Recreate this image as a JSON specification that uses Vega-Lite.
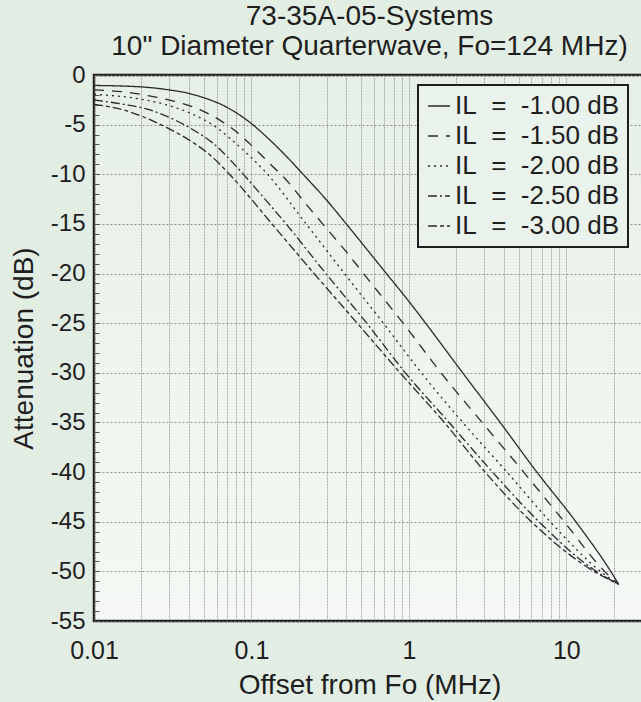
{
  "$schema": "https://vega.github.io/schema/vega-lite/v6.json",
  "autosize": "none",
  "padding": {"left": 94, "top": 75, "right": 0, "bottom": 81},
  "width": 551,
  "height": 546,
  "background": "#e2ede4",
  "view": {
    "fill": {"gradient": "linear", "x1": 0, "y1": 0, "x2": 0, "y2": 1, "stops": [{"offset": 0, "color": "#e6f0e8"}, {"offset": 1, "color": "#f5f8f4"}]},
    "stroke": "#1e1e1e",
    "strokeWidth": 2.5
  },
  "title": {
    "text": ["73-35A-05-Systems", "10\" Diameter Quarterwave, Fo=124 MHz)"],
    "font": "Liberation Sans",
    "fontSize": 28,
    "fontWeight": "normal",
    "color": "#1e1e1e",
    "lineHeight": 30,
    "offset": 2,
    "anchor": "middle"
  },
  "data": {
    "values": [
      {"f": 0.01, "a": -1.05, "s": "IL = -1.00 dB"},
      {"f": 0.02, "a": -1.2, "s": "IL = -1.00 dB"},
      {"f": 0.03, "a": -1.5, "s": "IL = -1.00 dB"},
      {"f": 0.04, "a": -1.85, "s": "IL = -1.00 dB"},
      {"f": 0.05, "a": -2.3, "s": "IL = -1.00 dB"},
      {"f": 0.065, "a": -3.0, "s": "IL = -1.00 dB"},
      {"f": 0.08, "a": -3.8, "s": "IL = -1.00 dB"},
      {"f": 0.1, "a": -4.9, "s": "IL = -1.00 dB"},
      {"f": 0.13, "a": -6.5, "s": "IL = -1.00 dB"},
      {"f": 0.16, "a": -7.9, "s": "IL = -1.00 dB"},
      {"f": 0.21, "a": -9.9, "s": "IL = -1.00 dB"},
      {"f": 0.3, "a": -12.6, "s": "IL = -1.00 dB"},
      {"f": 0.41, "a": -15.2, "s": "IL = -1.00 dB"},
      {"f": 0.55, "a": -17.7, "s": "IL = -1.00 dB"},
      {"f": 0.72, "a": -20, "s": "IL = -1.00 dB"},
      {"f": 1.0, "a": -22.8, "s": "IL = -1.00 dB"},
      {"f": 1.25, "a": -24.8, "s": "IL = -1.00 dB"},
      {"f": 2.15, "a": -29.8, "s": "IL = -1.00 dB"},
      {"f": 3.8, "a": -35, "s": "IL = -1.00 dB"},
      {"f": 6.5, "a": -40, "s": "IL = -1.00 dB"},
      {"f": 11.5, "a": -45, "s": "IL = -1.00 dB"},
      {"f": 19.5, "a": -50.2, "s": "IL = -1.00 dB"},
      {"f": 21.5, "a": -51.3, "s": "IL = -1.00 dB"},

      {"f": 0.01, "a": -1.5, "s": "IL = -1.50 dB"},
      {"f": 0.015, "a": -1.68, "s": "IL = -1.50 dB"},
      {"f": 0.022, "a": -2.08, "s": "IL = -1.50 dB"},
      {"f": 0.032, "a": -2.62, "s": "IL = -1.50 dB"},
      {"f": 0.045, "a": -3.36, "s": "IL = -1.50 dB"},
      {"f": 0.063, "a": -4.55, "s": "IL = -1.50 dB"},
      {"f": 0.08, "a": -5.7, "s": "IL = -1.50 dB"},
      {"f": 0.108, "a": -7.6, "s": "IL = -1.50 dB"},
      {"f": 0.138, "a": -9.3, "s": "IL = -1.50 dB"},
      {"f": 0.156, "a": -10.1, "s": "IL = -1.50 dB"},
      {"f": 0.225, "a": -13.1, "s": "IL = -1.50 dB"},
      {"f": 0.287, "a": -15.1, "s": "IL = -1.50 dB"},
      {"f": 0.4, "a": -17.8, "s": "IL = -1.50 dB"},
      {"f": 0.515, "a": -20, "s": "IL = -1.50 dB"},
      {"f": 0.92, "a": -25, "s": "IL = -1.50 dB"},
      {"f": 1.6, "a": -30, "s": "IL = -1.50 dB"},
      {"f": 2.92, "a": -35, "s": "IL = -1.50 dB"},
      {"f": 5.36, "a": -40, "s": "IL = -1.50 dB"},
      {"f": 9.7, "a": -45, "s": "IL = -1.50 dB"},
      {"f": 17.5, "a": -50, "s": "IL = -1.50 dB"},
      {"f": 21.5, "a": -51.3, "s": "IL = -1.50 dB"},

      {"f": 0.01, "a": -1.95, "s": "IL = -2.00 dB"},
      {"f": 0.0196, "a": -2.42, "s": "IL = -2.00 dB"},
      {"f": 0.029, "a": -3.02, "s": "IL = -2.00 dB"},
      {"f": 0.041, "a": -3.86, "s": "IL = -2.00 dB"},
      {"f": 0.057, "a": -5.04, "s": "IL = -2.00 dB"},
      {"f": 0.073, "a": -6.38, "s": "IL = -2.00 dB"},
      {"f": 0.098, "a": -8.2, "s": "IL = -2.00 dB"},
      {"f": 0.125, "a": -9.9, "s": "IL = -2.00 dB"},
      {"f": 0.22, "a": -14.9, "s": "IL = -2.00 dB"},
      {"f": 0.39, "a": -20, "s": "IL = -2.00 dB"},
      {"f": 0.72, "a": -25.4, "s": "IL = -2.00 dB"},
      {"f": 1.2, "a": -30, "s": "IL = -2.00 dB"},
      {"f": 2.2, "a": -35, "s": "IL = -2.00 dB"},
      {"f": 4.2, "a": -40, "s": "IL = -2.00 dB"},
      {"f": 7.9, "a": -45, "s": "IL = -2.00 dB"},
      {"f": 16.5, "a": -50, "s": "IL = -2.00 dB"},
      {"f": 21.5, "a": -51.3, "s": "IL = -2.00 dB"},

      {"f": 0.01, "a": -2.52, "s": "IL = -2.50 dB"},
      {"f": 0.0154, "a": -2.95, "s": "IL = -2.50 dB"},
      {"f": 0.0227, "a": -3.52, "s": "IL = -2.50 dB"},
      {"f": 0.0304, "a": -4.3, "s": "IL = -2.50 dB"},
      {"f": 0.0428, "a": -5.54, "s": "IL = -2.50 dB"},
      {"f": 0.0573, "a": -6.9, "s": "IL = -2.50 dB"},
      {"f": 0.0769, "a": -8.9, "s": "IL = -2.50 dB"},
      {"f": 0.0935, "a": -10.4, "s": "IL = -2.50 dB"},
      {"f": 0.125, "a": -12.7, "s": "IL = -2.50 dB"},
      {"f": 0.17, "a": -15.2, "s": "IL = -2.50 dB"},
      {"f": 0.29, "a": -19.8, "s": "IL = -2.50 dB"},
      {"f": 0.54, "a": -25, "s": "IL = -2.50 dB"},
      {"f": 0.95, "a": -30, "s": "IL = -2.50 dB"},
      {"f": 1.8, "a": -35, "s": "IL = -2.50 dB"},
      {"f": 3.4, "a": -40, "s": "IL = -2.50 dB"},
      {"f": 6.7, "a": -45, "s": "IL = -2.50 dB"},
      {"f": 15.5, "a": -50, "s": "IL = -2.50 dB"},
      {"f": 21.5, "a": -51.3, "s": "IL = -2.50 dB"},

      {"f": 0.01, "a": -2.95, "s": "IL = -3.00 dB"},
      {"f": 0.0154, "a": -3.52, "s": "IL = -3.00 dB"},
      {"f": 0.0216, "a": -4.36, "s": "IL = -3.00 dB"},
      {"f": 0.029, "a": -5.3, "s": "IL = -3.00 dB"},
      {"f": 0.0407, "a": -6.6, "s": "IL = -3.00 dB"},
      {"f": 0.0546, "a": -8.06, "s": "IL = -3.00 dB"},
      {"f": 0.0732, "a": -10.07, "s": "IL = -3.00 dB"},
      {"f": 0.135, "a": -15, "s": "IL = -3.00 dB"},
      {"f": 0.25, "a": -20, "s": "IL = -3.00 dB"},
      {"f": 0.47, "a": -25, "s": "IL = -3.00 dB"},
      {"f": 0.88, "a": -30, "s": "IL = -3.00 dB"},
      {"f": 1.68, "a": -35, "s": "IL = -3.00 dB"},
      {"f": 3.05, "a": -40, "s": "IL = -3.00 dB"},
      {"f": 6.0, "a": -45, "s": "IL = -3.00 dB"},
      {"f": 15.0, "a": -50, "s": "IL = -3.00 dB"},
      {"f": 21.5, "a": -51.3, "s": "IL = -3.00 dB"}
    ]
  },
  "mark": {"type": "line", "interpolate": "monotone", "color": "#2a2a2a", "strokeWidth": 1.3, "clip": true},
  "encoding": {
    "x": {
      "field": "f",
      "type": "quantitative",
      "scale": {"type": "log", "domain": [0.01, 31.62], "nice": false},
      "axis": {
        "title": "Offset from Fo (MHz)",
        "titleFont": "Liberation Sans",
        "titleFontSize": 28,
        "titleFontWeight": "normal",
        "titleColor": "#1e1e1e",
        "titlePadding": 8,
        "values": [0.01,0.02,0.03,0.04,0.05,0.06,0.07,0.08,0.09,0.1,0.2,0.3,0.4,0.5,0.6,0.7,0.8,0.9,1,2,3,4,5,6,7,8,9,10,20,30],
        "labelExpr": "datum.value == 0.01 ? '0.01' : datum.value == 0.1 ? '0.1' : datum.value == 1 ? '1' : datum.value == 10 ? '10' : ''",
        "labelFont": "Liberation Sans",
        "labelFontSize": 25,
        "labelColor": "#1e1e1e",
        "labelPadding": 17,
        "labelOverlap": false,
        "labelFlush": false,
        "labelBound": false,
        "ticks": false,
        "domain": false,
        "grid": true,
        "gridColor": "#7a7a7a",
        "gridWidth": 0.8,
        "gridDash": [2, 1],
        "gridOpacity": 0.75
      }
    },
    "y": {
      "field": "a",
      "type": "quantitative",
      "scale": {"domain": [-55, 0], "nice": false, "zero": false},
      "axis": {
        "title": "Attenuation (dB)",
        "titleFont": "Liberation Sans",
        "titleFontSize": 28,
        "titleFontWeight": "normal",
        "titleColor": "#1e1e1e",
        "titlePadding": 12,
        "values": [0,-1,-2,-3,-4,-5,-6,-7,-8,-9,-10,-11,-12,-13,-14,-15,-16,-17,-18,-19,-20,-21,-22,-23,-24,-25,-26,-27,-28,-29,-30,-31,-32,-33,-34,-35,-36,-37,-38,-39,-40,-41,-42,-43,-44,-45,-46,-47,-48,-49,-50,-51,-52,-53,-54,-55],
        "labelExpr": "datum.value % 5 === 0 ? '' + datum.value : ''",
        "labelFont": "Liberation Sans",
        "labelFontSize": 24,
        "labelColor": "#1e1e1e",
        "labelPadding": 14,
        "labelOverlap": false,
        "labelBound": false,
        "labelFlush": false,
        "ticks": true,
        "tickSize": -5,
        "tickColor": "#555555",
        "tickWidth": 1,
        "domain": false,
        "grid": true,
        "gridColor": "#7a7a7a",
        "gridWidth": 0.9,
        "gridDash": [2, 2],
        "gridOpacity": {"condition": {"test": "datum.value % 5 === 0", "value": 0.9}, "value": 0}
      }
    },
    "strokeDash": {
      "field": "s",
      "type": "nominal",
      "sort": ["IL = -1.00 dB", "IL = -1.50 dB", "IL = -2.00 dB", "IL = -2.50 dB", "IL = -3.00 dB"],
      "scale": {
        "domain": ["IL = -1.00 dB", "IL = -1.50 dB", "IL = -2.00 dB", "IL = -2.50 dB", "IL = -3.00 dB"],
        "range": [[1, 0], [10, 8], [2, 4], [9, 3, 2, 3], [9, 3, 4, 3]]
      },
      "legend": {
        "title": null,
        "orient": "none",
        "legendX": 324,
        "legendY": 10,
        "padding": 8,
        "fillColor": "#eaf2ec",
        "strokeColor": "#1e1e1e",
        "symbolType": "stroke",
        "symbolSize": 484,
        "symbolStrokeWidth": 1.3,
        "symbolStrokeColor": "#2a2a2a",
        "labelFont": "Liberation Sans",
        "labelFontSize": 26,
        "labelColor": "#1e1e1e",
        "labelOffset": 3,
        "labelExpr": "replace(datum.label, ' = ', '\u00a0\u00a0=\u00a0\u00a0') + '\u00a0'",
        "rowPadding": 4,
        "labelLimit": 300,
        "encode": {"legend": {"update": {"strokeWidth": {"value": 2}}}}
      }
    }
  }
}
